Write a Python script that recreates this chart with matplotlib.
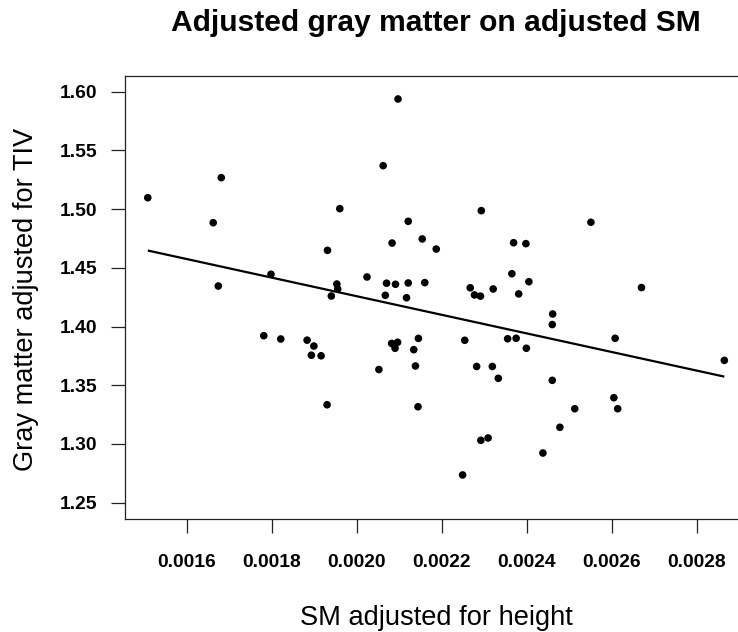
import numpy as np
import matplotlib
matplotlib.use("Agg")
import matplotlib.pyplot as plt
from matplotlib.ticker import FixedLocator, FormatStrFormatter

# SM adjusted for height (x) and gray matter adjusted for TIV (y)
sm_adj = [
    0.001508, 0.001681, 0.001662, 0.001674, 0.001798, 0.002097, 0.002062,
    0.001960, 0.002121, 0.002083, 0.002154, 0.001931, 0.002024, 0.001953,
    0.001955, 0.001940, 0.002070, 0.002091, 0.002121, 0.002067, 0.002117,
    0.002293, 0.002551, 0.002187, 0.002369, 0.002398, 0.002365, 0.002405,
    0.002160, 0.002267, 0.002277, 0.002291, 0.002321, 0.002381, 0.002670,
    0.002461, 0.002460, 0.002608, 0.002145, 0.002134, 0.002138, 0.002254,
    0.002355, 0.002375, 0.002399, 0.002282, 0.002319, 0.002333, 0.002460,
    0.002144, 0.002605, 0.002614, 0.002513, 0.002478, 0.002292, 0.002309,
    0.002438, 0.002249, 0.001781, 0.001821, 0.001883, 0.001899, 0.001893,
    0.001916, 0.001930, 0.002052, 0.002082, 0.002096, 0.002090, 0.002865,
]
gm_adj = [
    1.5097, 1.5268, 1.4884, 1.4345, 1.4445, 1.5938, 1.5370,
    1.5004, 1.4896, 1.4711, 1.4746, 1.4649, 1.4422, 1.4362,
    1.4320, 1.4260, 1.4369, 1.4360, 1.4371, 1.4266, 1.4245,
    1.4987, 1.4888, 1.4660, 1.4714, 1.4706, 1.4450, 1.4382,
    1.4374, 1.4330, 1.4269, 1.4259, 1.4320, 1.4278, 1.4332,
    1.4107, 1.4017, 1.3900, 1.3899, 1.3803, 1.3664, 1.3883,
    1.3896, 1.3900, 1.3815, 1.3660, 1.3660, 1.3559, 1.3542,
    1.3317, 1.3394, 1.3300, 1.3300, 1.3142, 1.3031, 1.3051,
    1.2923, 1.2736, 1.3922, 1.3894, 1.3884, 1.3834, 1.3756,
    1.3751, 1.3334, 1.3634, 1.3856, 1.3866, 1.3815, 1.3712,
]

x_ticks = [0.0016, 0.0018, 0.0020, 0.0022, 0.0024, 0.0026, 0.0028]
y_ticks = [1.25, 1.30, 1.35, 1.40, 1.45, 1.50, 1.55, 1.60]

title = "Adjusted gray matter on adjusted SM"
x_label = "SM adjusted for height"
y_label = "Gray matter adjusted for TIV"

plt.rcParams["font.family"] = ["Liberation Sans", "DejaVu Sans"]

W, H = 738, 632
fig = plt.figure(figsize=(W / 100, H / 100), dpi=100)
fig.patch.set_facecolor("white")

# plot box in pixels: left 124.7, top 75.7, bottom 518.7, right beyond the canvas
left_px, right_px, top_px, bot_px = 124.7, 747.4, 75.7, 518.7
ax = fig.add_axes([left_px / W, (H - bot_px) / H,
                   (right_px - left_px) / W, (bot_px - top_px) / H])

x = np.asarray(sm_adj)
y = np.asarray(gm_adj)

ax.scatter(x, y, s=30, color="black", edgecolors="none", zorder=3)

# least-squares fit drawn over the observed x range
slope, intercept = np.polyfit(x, y, 1)
xs = np.array([x.min(), x.max()])
ax.plot(xs, intercept + slope * xs, color="black", lw=1.6,
        solid_capstyle="butt", zorder=2)

ax.set_xlim(0.0014537, 0.0029193)
ax.set_ylim(1.23635, 1.61363)

ax.xaxis.set_major_locator(FixedLocator(x_ticks))
ax.yaxis.set_major_locator(FixedLocator(y_ticks))
ax.xaxis.set_major_formatter(FormatStrFormatter("%.4f"))
ax.yaxis.set_major_formatter(FormatStrFormatter("%.2f"))

for s in ax.spines.values():
    s.set_color("#222222")
    s.set_linewidth(0.9)

ax.tick_params(axis="both", direction="out", length=10, width=0.9,
               color="#222222", labelsize=13.9)
ax.tick_params(axis="x", pad=15.5)
ax.tick_params(axis="y", pad=9.5)
for lab in ax.get_xticklabels() + ax.get_yticklabels():
    lab.set_fontweight("bold")

cx = (left_px + right_px) / 2 / W
fig.text(cx, 1 - 31 / H, title, ha="center", va="baseline",
         fontsize=21.6, fontweight="bold")
fig.text(cx, 1 - 625 / H, x_label, ha="center", va="baseline", fontsize=19.6)
fig.text(26 / W, 1 - 299 / H, y_label, ha="center", va="center",
         rotation=90, fontsize=19.6)

fig.savefig("out.png", dpi=100, facecolor="white")
